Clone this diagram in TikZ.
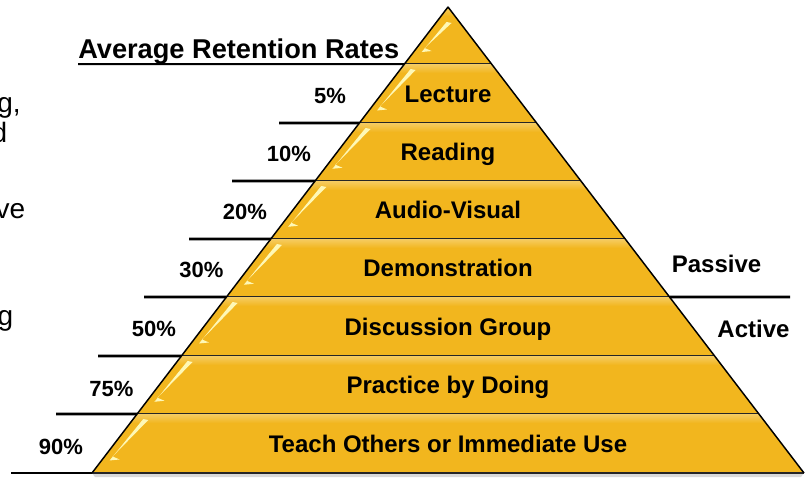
\documentclass[tikz,border=0pt]{standalone}
\usepackage{fontspec}
\setmainfont{Liberation Sans}
\usetikzlibrary{calc}
\definecolor{pyrgold}{RGB}{242,182,30}
\tikzset{
  bandlabel/.style = {anchor=base, inner sep=0pt,
    font=\bfseries\fontsize{18}{20}\selectfont},% text inside the pyramid
  pctlabel/.style = {anchor=base, inner sep=0pt,
    font=\bfseries\fontsize{16.5}{18}\selectfont},% retention rate
  sidelabel/.style = {anchor=base, inner sep=0pt,
    font=\bfseries\fontsize{18}{20}\selectfont},
  cuttext/.style = {anchor=base east, inner sep=0pt,
    font=\fontsize{21}{24}\selectfont},% text of the slide next to it
  band/.style = {draw=black!85, line width=0.9pt, top color=pyrgold!80!white,
    middle color=pyrgold, bottom color=pyrgold!96!black, shading angle=0},
  gloss/.style = {fill=yellow!25!white, draw=none, opacity=0.95},
  tick/.style = {line width=2.2pt, black}
}

\begin{document}
\begin{tikzpicture}[x=0.75pt, y=-0.75pt]
  \useasboundingbox (0,0) rectangle (809,479);
  \clip (0,0) rectangle (809,479);
  \coordinate (apex) at (448,7);
  \coordinate (bl) at (92,473);
  \coordinate (br) at (804,473);

  % shadow under the base
  \fill[black!15] (bl) -- (br) -- ($(br)+(-3,4)$) -- ($(bl)+(3,4)$) -- cycle;

  \foreach \yt/\yb in {7/64, 64/123, 123/181, 181/239, 239/297, 297/356, 356/414, 414/473} {
    \pgfmathsetmacro\ta{(\yt-7)/466}
    \pgfmathsetmacro\tb{(\yb-7)/466}
    \fill[pyrgold] ($(apex)!\ta!(bl)$) -- ($(apex)!\tb!(bl)$) -- ($(apex)!\tb!(br)$)
      -- ($(apex)!\ta!(br)$) -- cycle;
    \pgfmathsetmacro\tc{(\yt+9-7)/466}
    \shade[top color=pyrgold!70!white, bottom color=pyrgold]
      ($(apex)!\ta!(bl)$) -- ($(apex)!\tc!(bl)$) -- ($(apex)!\tc!(br)$)
      -- ($(apex)!\ta!(br)$) -- cycle;
    \draw[draw=black!85, line width=0.9pt] ($(apex)!\tb!(bl)$) -- ($(apex)!\tb!(br)$);
    \pgfmathsetmacro\tu{(max(\yt+5,22)-7)/466}
    \pgfmathsetmacro\tv{(\yt+0.72*(\yb-\yt)-7)/466}
    \coordinate (g1) at ($(apex)!\tu!(bl)+(10,0)$);
    \coordinate (g2) at ($(apex)!\tv!(bl)+(5,0)$);
    \fill[gloss] (g1) -- ($(g1)+(5,1)$) -- ($(g2)+(3,0)$) -- ($(g2)+(10,3)$)
      -- ($(g2)+(0,4)$) -- cycle;
  }
  \draw[black, line width=1.1pt, line join=round] (bl) -- (apex) -- (br);

  \node[bandlabel] (lecture) at (448,102) {Lecture};
  \node[bandlabel] (reading) at (448,160.5) {Reading};
  \node[bandlabel] (audiovisual) at (448,218.5) {Audio-Visual};
  \node[bandlabel] (demonstration) at (448,276.5) {Demonstration};
  \node[bandlabel] (discussion) at (448,335) {Discussion Group};
  \node[bandlabel] (practice) at (448,393.5) {Practice by Doing};
  \node[bandlabel] (teach) at (448,452) {Teach Others or Immediate Use};

  \node[pctlabel] (p5) at (330,103) {5\%};
  \node[pctlabel] (p10) at (289,161) {10\%};
  \node[pctlabel] (p20) at (245,219) {20\%};
  \node[pctlabel] (p30) at (201.5,277) {30\%};
  \node[pctlabel] (p50) at (154,336) {50\%};
  \node[pctlabel] (p75) at (111.5,396) {75\%};
  \node[pctlabel] (p90) at (61,454) {90\%};

  \foreach \y/\xs [count=\i] in {123/279, 181/232, 239/189, 297/144, 356/98, 414/56, 473/11} {
    \pgfmathsetmacro\tpos{(\y-7)/466}
    \coordinate (ts\i) at (\xs,\y);
    \coordinate (te\i) at ($(apex)!\tpos!(bl)$);
    \draw[tick] (ts\i) -- (te\i);
  }

  % title and its underline
  \node[anchor=base west, inner sep=0pt, font=\bfseries\fontsize{20.4}{24}\selectfont]
    (title) at (78,58) {Average Retention Rates};
  \pgfmathsetmacro\tpos{(64-7)/466}
  \coordinate (us) at (78,64);
  \coordinate (ue) at ($(apex)!\tpos!(bl)$);
  \draw[line width=1.5pt] (us) -- (ue);

  \node[sidelabel] (passive) at (716.5,272) {Passive};
  \node[sidelabel] (active) at (753.5,337) {Active};
  \pgfmathsetmacro\tpos{(297-7)/466}
  \coordinate (ps) at ($(apex)!\tpos!(br)$);
  \coordinate (pe) at (790,297);
  \draw[tick] (ps) -- (pe);

  \node[cuttext] (cut1) at (21,112) {g,};
  \node[cuttext] (cut2) at (7.5,142) {d};
  \node[cuttext] (cut3) at (25.5,218) {ve};
  \node[cuttext] (cut4) at (13.5,325) {g};
\end{tikzpicture}
\end{document}
